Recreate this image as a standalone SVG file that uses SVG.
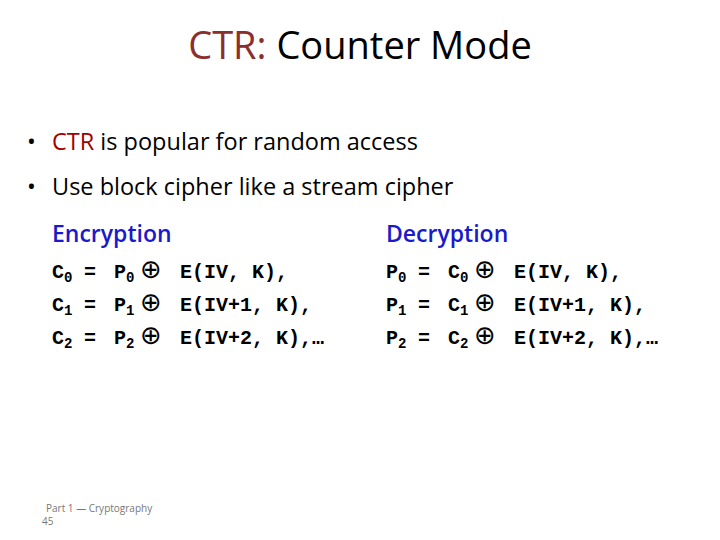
<svg xmlns="http://www.w3.org/2000/svg" width="720" height="540" viewBox="0 0 720 540">
<style>
.t{font-family:"Open Sans","Liberation Sans",sans-serif}
.m{font-family:"Liberation Mono","Courier New",monospace;font-size:20px;fill:#000;font-weight:bold}
.s{font-size:14px}
.x{font-size:26px;font-family:"DejaVu Sans",sans-serif;font-weight:normal}
.h{font-family:"Open Sans","Liberation Sans",sans-serif;font-size:23px;fill:#1a1acc;font-weight:600}
</style>
<rect width="720" height="540" fill="#fff"/>
<text class="t" x="360" y="59" font-size="38" text-anchor="middle" font-weight="500"><tspan fill="#8b2e2e">CTR:</tspan><tspan fill="#000"> Counter Mode</tspan></text>
<g class="t" font-size="23.5" fill="#000">
<text x="27" y="150">•</text><text x="52" y="150"><tspan fill="#a00000">CTR</tspan> is popular for random access</text>
<text x="27" y="195">•</text><text x="52" y="195">Use block cipher like a stream cipher</text>
</g>
<text class="h" x="52" y="242">Encryption</text>
<text class="h" x="386" y="242">Decryption</text>
<g id="enc">
<text class="m" y="278"><tspan x="52">C</tspan><tspan class="s" x="64" dy="4">0</tspan><tspan x="84" dy="-4">=</tspan><tspan x="114">P</tspan><tspan class="s" x="126" dy="4">0</tspan><tspan class="x" x="140" dy="-4">⊕</tspan><tspan x="180">E(IV, K),</tspan></text>
<text class="m" y="311"><tspan x="52">C</tspan><tspan class="s" x="64" dy="4">1</tspan><tspan x="84" dy="-4">=</tspan><tspan x="114">P</tspan><tspan class="s" x="126" dy="4">1</tspan><tspan class="x" x="140" dy="-4">⊕</tspan><tspan x="180">E(IV+1, K),</tspan></text>
<text class="m" y="344"><tspan x="52">C</tspan><tspan class="s" x="64" dy="4">2</tspan><tspan x="84" dy="-4">=</tspan><tspan x="114">P</tspan><tspan class="s" x="126" dy="4">2</tspan><tspan class="x" x="140" dy="-4">⊕</tspan><tspan x="180">E(IV+2, K),…</tspan></text>
</g>
<g id="dec">
<text class="m" y="278"><tspan x="386">P</tspan><tspan class="s" x="398" dy="4">0</tspan><tspan x="418" dy="-4">=</tspan><tspan x="448">C</tspan><tspan class="s" x="460" dy="4">0</tspan><tspan class="x" x="474" dy="-4">⊕</tspan><tspan x="514">E(IV, K),</tspan></text>
<text class="m" y="311"><tspan x="386">P</tspan><tspan class="s" x="398" dy="4">1</tspan><tspan x="418" dy="-4">=</tspan><tspan x="448">C</tspan><tspan class="s" x="460" dy="4">1</tspan><tspan class="x" x="474" dy="-4">⊕</tspan><tspan x="514">E(IV+1, K),</tspan></text>
<text class="m" y="344"><tspan x="386">P</tspan><tspan class="s" x="398" dy="4">2</tspan><tspan x="418" dy="-4">=</tspan><tspan x="448">C</tspan><tspan class="s" x="460" dy="4">2</tspan><tspan class="x" x="474" dy="-4">⊕</tspan><tspan x="514">E(IV+2, K),…</tspan></text>
</g>
<g class="t" font-size="10" fill="#777">
<text x="46" y="512">Part 1 — Cryptography</text>
<text x="42" y="525">45</text>
</g>
</svg>
